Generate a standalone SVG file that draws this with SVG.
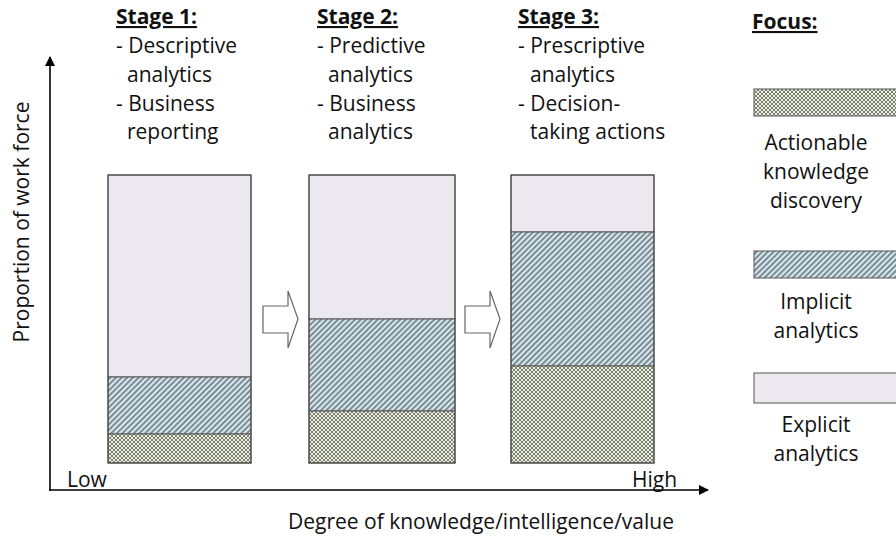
<svg xmlns="http://www.w3.org/2000/svg" width="896" height="537" viewBox="0 0 896 537">
<defs>
<style>
text{font-family:"Open Sans","Liberation Sans",sans-serif;font-size:21px;fill:#111}
.h{font-weight:bold;text-decoration:underline}
.lg{text-anchor:middle}
.seg{stroke:#555;stroke-width:1}
.bar{fill:none;stroke:#444;stroke-width:1}
.blk{fill:#fff;stroke:#666;stroke-width:1.2}
.axis{stroke:#000;stroke-width:1.6;fill:none}
</style>
<pattern id="chk" width="4" height="4" patternUnits="userSpaceOnUse">
<rect width="4" height="4" fill="#eceedd"/>
<path d="M0,0L4,4M4,0L0,4" stroke="#70756a" stroke-width="0.9"/>
</pattern>
<pattern id="dia" width="4" height="4" patternUnits="userSpaceOnUse" patternTransform="rotate(45)">
<rect width="4" height="4" fill="#d6e8ee"/>
<line x1="1" y1="0" x2="1" y2="4" stroke="#4d5c62" stroke-width="1.3"/>
</pattern>
<marker id="ah" markerWidth="10" markerHeight="10" refX="9" refY="5" orient="auto" markerUnits="userSpaceOnUse">
<path d="M0,0L10,5L0,10Z" fill="#000"/>
</marker>
</defs>

<g id="connectors">
<line class="axis" x1="50" y1="491" x2="50" y2="57" marker-end="url(#ah)"/>
<line class="axis" x1="49" y1="490" x2="708" y2="490" marker-end="url(#ah)"/>
<path id="arrow1" class="blk" d="M263,306H288V291L298,319L288,348V333H263Z"/>
<path id="arrow2" class="blk" d="M465,306H490V291L500,319L490,348V333H465Z"/>
</g>

<g id="bar1">
<rect x="108" y="175" width="143" height="202" fill="#ebe8f0" class="seg"/>
<rect x="108" y="377" width="143" height="57" fill="url(#dia)" class="seg"/>
<rect x="108" y="434" width="143" height="29" fill="url(#chk)" class="seg"/>
<rect x="108" y="175" width="143" height="288" class="bar"/>
</g>
<g id="bar2">
<rect x="309" y="175" width="146" height="144" fill="#ebe8f0" class="seg"/>
<rect x="309" y="319" width="146" height="92" fill="url(#dia)" class="seg"/>
<rect x="309" y="411" width="146" height="52" fill="url(#chk)" class="seg"/>
<rect x="309" y="175" width="146" height="288" class="bar"/>
</g>
<g id="bar3">
<rect x="511" y="175" width="143" height="57" fill="#ebe8f0" class="seg"/>
<rect x="511" y="232" width="143" height="134" fill="url(#dia)" class="seg"/>
<rect x="511" y="366" width="143" height="97" fill="url(#chk)" class="seg"/>
<rect x="511" y="175" width="143" height="288" class="bar"/>
</g>

<g id="stage1">
<text x="116" y="24" class="h">Stage 1:</text>
<text x="116" y="53">- Descriptive</text>
<text x="127" y="82">analytics</text>
<text x="116" y="111">- Business</text>
<text x="127" y="139">reporting</text>
</g>
<g id="stage2">
<text x="317" y="24" class="h">Stage 2:</text>
<text x="317" y="53">- Predictive</text>
<text x="328" y="82">analytics</text>
<text x="317" y="111">- Business</text>
<text x="328" y="139">analytics</text>
</g>
<g id="stage3">
<text x="518" y="24" class="h">Stage 3:</text>
<text x="518" y="53">- Prescriptive</text>
<text x="530" y="82">analytics</text>
<text x="518" y="111">- Decision-</text>
<text x="530" y="139">taking actions</text>
</g>

<g id="legend">
<text x="752" y="29" class="h">Focus:</text>
<rect x="754" y="89" width="150" height="27" fill="url(#chk)" class="seg"/>
<text x="816" y="150" class="lg">Actionable</text>
<text x="816" y="179" class="lg">knowledge</text>
<text x="816" y="208" class="lg">discovery</text>
<rect x="754" y="251" width="150" height="27" fill="url(#dia)" class="seg"/>
<text x="816" y="309" class="lg">Implicit</text>
<text x="816" y="338" class="lg">analytics</text>
<rect x="754" y="373" width="150" height="30" fill="#ebe8f0" class="seg"/>
<text x="816" y="432" class="lg">Explicit</text>
<text x="816" y="461" class="lg">analytics</text>
</g>

<g id="axis-labels">
<text x="29" y="222" class="lg" transform="rotate(-90 29 222)">Proportion of work force</text>
<text x="67" y="487">Low</text>
<text x="632" y="487">High</text>
<text x="481" y="529" class="lg">Degree of knowledge/intelligence/value</text>
</g>
</svg>
